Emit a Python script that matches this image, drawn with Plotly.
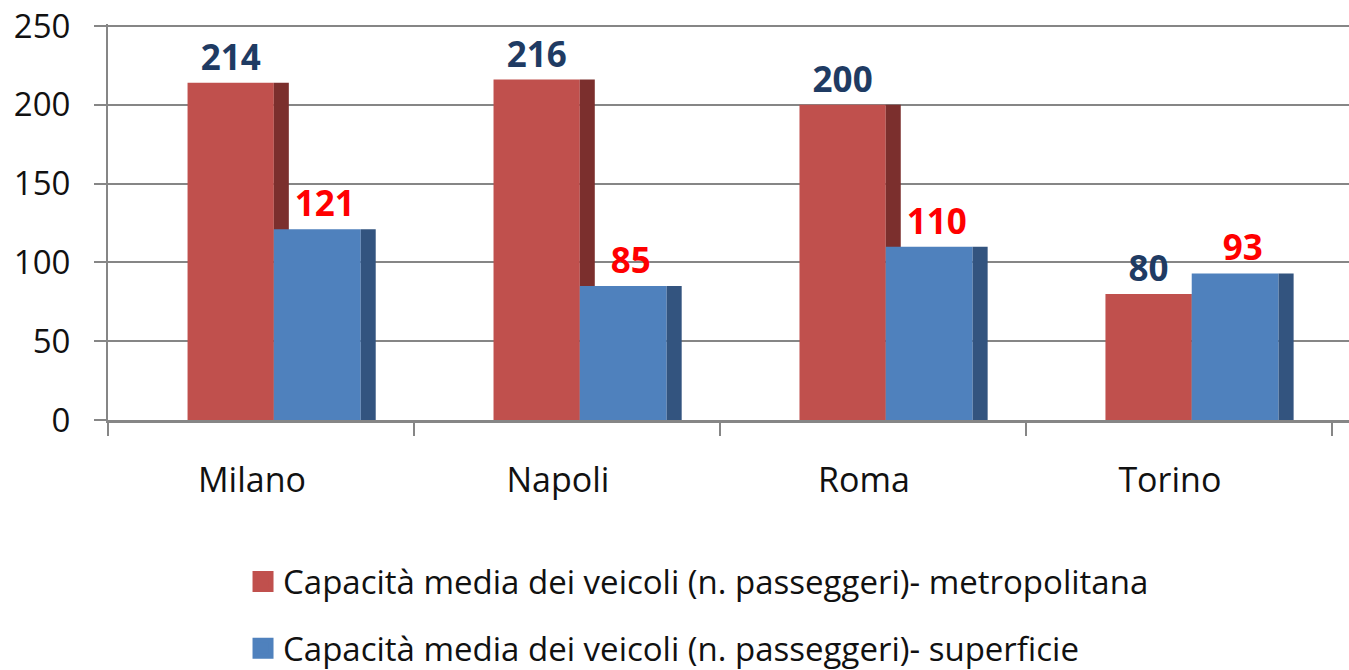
import plotly.graph_objects as go

cities = ["Milano", "Napoli", "Roma", "Torino"]
metro = [214, 216, 200, 80]
superficie = [121, 85, 110, 93]
series_names = [
    "Capacità media dei veicoli (n. passeggeri)- metropolitana",
    "Capacità media dei veicoli (n. passeggeri)- superficie",
]
y_ticks = [0, 50, 100, 150, 200, 250]

FONT = "Open Sans"
RED, RED_SIDE = "#C0504D", "#7B2F2D"
BLUE, BLUE_SIDE = "#4F81BD", "#33547F"
TXT = "#111111"

fig = go.Figure()
# metro front
fig.add_trace(go.Bar(x=cities, y=metro, offset=-0.240, width=0.282,
                     marker=dict(color=RED, line=dict(width=0)),
                     text=[str(v) for v in metro], textposition="outside",
                     textfont=dict(family=FONT, size=35, color="#1F3B63", weight="bold"),
                     constraintext="none",
                     cliponaxis=False, showlegend=False, hoverinfo="skip"))
# metro side
fig.add_trace(go.Bar(x=cities, y=metro, offset=0.042, width=0.049,
                     marker=dict(color=RED_SIDE, line=dict(width=0)),
                     showlegend=False, hoverinfo="skip"))
# superficie front
fig.add_trace(go.Bar(x=cities, y=superficie, offset=0.042, width=0.284,
                     marker=dict(color=BLUE, line=dict(width=0)),
                     showlegend=False, hoverinfo="skip"))
# superficie side
fig.add_trace(go.Bar(x=cities, y=superficie, offset=0.326, width=0.049,
                     marker=dict(color=BLUE_SIDE, line=dict(width=0)),
                     showlegend=False, hoverinfo="skip"))
# superficie labels, centred over front + side face
fig.add_trace(go.Bar(x=cities, y=superficie, offset=0.042, width=0.333,
                     marker=dict(color="rgba(0,0,0,0)", line=dict(width=0)),
                     text=[str(v) for v in superficie], textposition="outside",
                     textfont=dict(family=FONT, size=35, color="#FF0000", weight="bold"),
                     constraintext="none",
                     cliponaxis=False, showlegend=False, hoverinfo="skip"))

# legend entries
for name, col, grp in [(series_names[0], RED, "a"), (series_names[1], BLUE, "b")]:
    fig.add_trace(go.Scatter(x=[None], y=[None], mode="markers", name=name,
                             legendgroup=grp,
                             marker=dict(symbol="square", size=16, color=col,
                                         line=dict(color=col, width=5))))

fig.update_layout(
    width=1349, height=670,
    barmode="overlay",
    paper_bgcolor="white", plot_bgcolor="white",
    margin=dict(l=108, r=0, t=24, b=250, autoexpand=False),
    font=dict(family=FONT, size=34, color=TXT),
    legend=dict(x=0.1088, y=-0.6477, xanchor="left", yanchor="bottom",
                font=dict(family=FONT, size=33, color=TXT),
                tracegroupgap=21, itemsizing="trace"),
    showlegend=True,
)
fig.update_xaxes(type="category", range=[-0.5, 3.556],
                 showline=True, linecolor="#868686", linewidth=3,
                 ticks="outside", tickson="boundaries", ticklen=13,
                 tickcolor="#868686", tickwidth=2,
                 ticklabelstandoff=28, ticklabelshift=-9, showgrid=False,
                 tickfont=dict(family=FONT, size=34, color=TXT))
fig.update_yaxes(range=[0, 251.27], tickvals=y_ticks,
                 showline=True, linecolor="#868686", linewidth=2,
                 showgrid=True, gridcolor="#868686", gridwidth=2,
                 ticks="outside", ticklen=12, tickcolor="#868686", tickwidth=2,
                 ticklabelstandoff=17, ticklabeloverflow="allow", zeroline=False,
                 tickfont=dict(family=FONT, size=33, color=TXT))

fig.write_html("out.html", config={"displayModeBar": False},
               post_script="document.body.style.margin='0';document.body.style.overflow='hidden';")
